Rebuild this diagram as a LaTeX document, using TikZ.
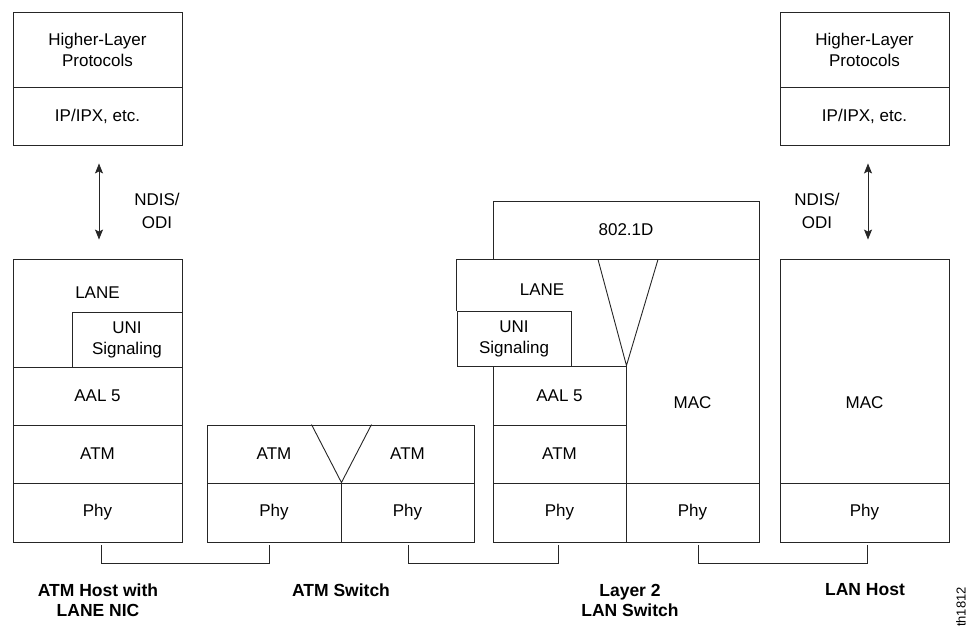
\documentclass[tikz,border=0pt]{standalone}
\usepackage{fontspec}
\setmainfont{Liberation Sans}
\usetikzlibrary{arrows.meta}
\begin{document}
\begin{tikzpicture}[x=1pt,y=-1pt,
 cell/.style={draw=black!85, line width=0.9pt, rectangle, inner sep=0pt, align=center, font=\fontsize{17}{21}\selectfont},
 txt/.style={inner sep=0pt, align=center, font=\fontsize{17}{21}\selectfont},
 lbl/.style={inner sep=0pt, align=center, font=\bfseries\fontsize{17.5}{20}\selectfont},
 ln/.style={draw=black!85, line width=0.9pt},
 dbl/.style={ln, {Stealth[length=10pt,width=8pt,inset=2pt]}-{Stealth[length=10pt,width=8pt,inset=2pt]}}
]
\useasboundingbox (0,0) rectangle (968,634);

% ATM host with LANE NIC
\node[cell, minimum width=169pt, minimum height=75pt] (hl1) at (97.5,49.5) {Higher-Layer\\Protocols};
\node[cell, minimum width=169pt, minimum height=58pt] (ip1) at (97.5,116) {IP/IPX, etc.};
\node[cell, minimum width=169pt, minimum height=108pt] (lane1) at (97.5,313) {};
\node[txt] (lane1t) at (97.5,293) {LANE};
\node[cell, minimum width=110pt, minimum height=55pt] (uni1) at (127,339.5) {UNI\\Signaling};
\node[cell, minimum width=169pt, minimum height=58pt] (aal1) at (97.5,396) {AAL 5};
\node[cell, minimum width=169pt, minimum height=58pt] (atm1) at (97.5,454) {ATM};
\node[cell, minimum width=169pt, minimum height=59pt] (phy1) at (97.5,512.5) {Phy};
\draw[dbl] ([xshift=1.5pt,yshift=-18pt]ip1.south) -- ([xshift=1.5pt,yshift=19pt]lane1.north);
\node[txt, font=\fontsize{17}{23}\selectfont] (ndis1) at (157,211) {NDIS/\\ODI};

% ATM switch
\node[cell, minimum width=267pt, minimum height=58pt] (atmS) at (340.5,454) {};
\node[txt] (atmL) at (274,454) {ATM};
\node[txt] (atmR) at (407.5,454) {ATM};
\node[cell, minimum width=134pt, minimum height=59pt] (phyL) at (274,512.5) {Phy};
\node[cell, minimum width=133pt, minimum height=59pt] (phyR) at (407.5,512.5) {Phy};
\draw[ln] ([xshift=-29pt]atmS.north) -- (phyL.north east) -- ([xshift=31pt]atmS.north);

% Layer 2 LAN switch
\node[cell, minimum width=266pt, minimum height=58pt] (d802) at (626,230) {802.1D};
\node[txt] (lane2t) at (542,290) {LANE};
\node[cell, minimum width=114pt, minimum height=55pt] (uni2) at (514,338.5) {UNI\\Signaling};
\node[cell, minimum width=133pt, minimum height=59pt] (aal2) at (559.5,395.5) {AAL 5};
\node[cell, minimum width=133pt, minimum height=58pt] (atm2) at (559.5,454) {ATM};
\node[cell, minimum width=133pt, minimum height=59pt] (phy2a) at (559.5,512.5) {Phy};
\node[cell, minimum width=133pt, minimum height=59pt] (phy2b) at (692.5,512.5) {Phy};
\node[txt] (mac2) at (692.5,403) {MAC};
\draw[ln] (uni2.north west) -- (uni2.north west |- d802.south) -- (d802.south west);
\draw[ln] (d802.south east) -- (phy2b.north east);
\draw[ln] ([xshift=-28pt]d802.south) -- (aal2.north east) -- ([xshift=32pt]d802.south);

% LAN host
\node[cell, minimum width=169pt, minimum height=75pt] (hl3) at (864.5,49.5) {Higher-Layer\\Protocols};
\node[cell, minimum width=169pt, minimum height=58pt] (ip3) at (864.5,116) {IP/IPX, etc.};
\node[cell, minimum width=169pt, minimum height=224pt] (mac3) at (864.5,371) {};
\node[txt] (mac3t) at (864.5,403) {MAC};
\node[cell, minimum width=169pt, minimum height=59pt] (phy3) at (864.5,512.5) {Phy};
\draw[dbl] ([xshift=3.5pt,yshift=-18pt]ip3.south) -- ([xshift=3.5pt,yshift=19pt]mac3.north);
\node[txt, font=\fontsize{17}{23}\selectfont] (ndis3) at (817,211) {NDIS/\\ODI};

% links
\draw[ln] ([xshift=3.5pt,yshift=-3pt]phy1.south) -- ++(0,18) -| ([xshift=-5pt,yshift=-3pt]phyL.south);
\draw[ln] ([xshift=0.5pt,yshift=-3pt]phyR.south) -- ++(0,18) -| ([xshift=-1.5pt,yshift=-3pt]phy2a.south);
\draw[ln] ([xshift=5.5pt,yshift=-3pt]phy2b.south) -- ++(0,18) -| ([xshift=2.5pt,yshift=-3pt]phy3.south);

% captions
\node[lbl] (cap1) at (98,600) {ATM Host with\\LANE NIC};
\node[lbl] (cap2) at (341,590) {ATM Switch};
\node[lbl] (cap3) at (630,600) {Layer 2\\LAN Switch};
\node[lbl] (cap4) at (865,590) {LAN Host};
\node[txt, font=\fontsize{13}{15}\selectfont, rotate=90] (tag) at (961,607) {th1812};
\end{tikzpicture}
\end{document}
